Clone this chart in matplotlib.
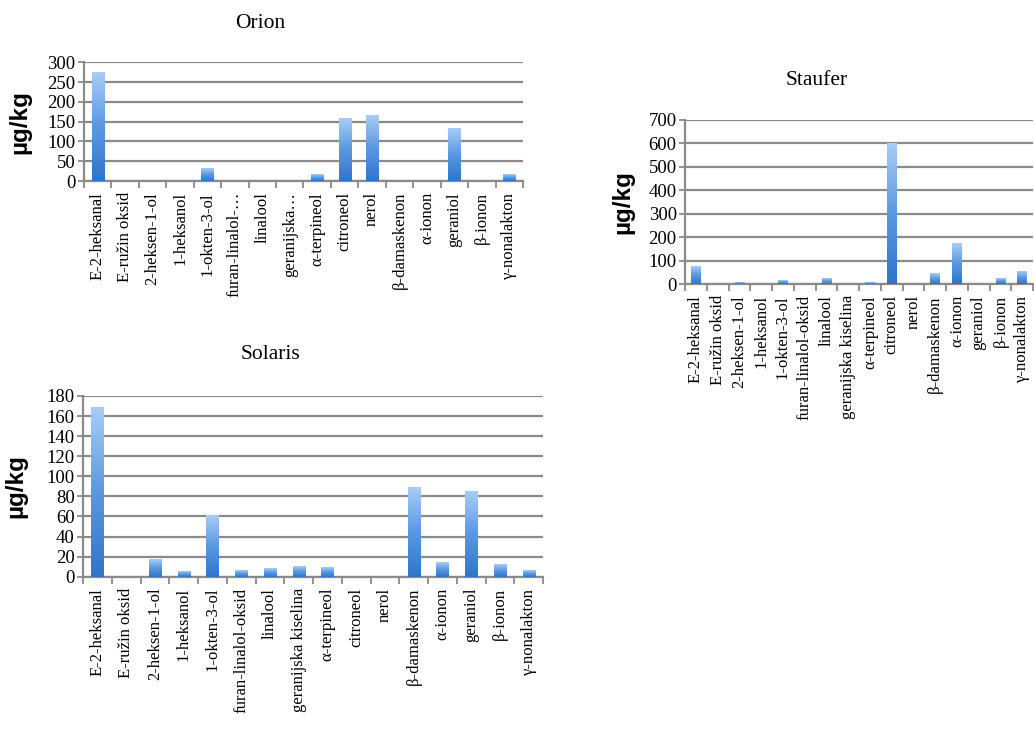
import matplotlib
matplotlib.use("Agg")
import matplotlib.pyplot as plt
import numpy as np
from matplotlib.colors import LinearSegmentedColormap

compounds = ["E-2-heksanal", "E-ružin oksid", "2-heksen-1-ol", "1-heksanol",
             "1-okten-3-ol", "furan-linalol-oksid", "linalool",
             "geranijska kiselina", "α-terpineol", "citroneol", "nerol",
             "β-damaskenon", "α-ionon", "geraniol", "β-ionon", "γ-nonalakton"]
# Orion chart shows two names cut short
orion_labels = list(compounds)
orion_labels[5] = "furan-linalol-…"
orion_labels[7] = "geranijska…"

orion = [275, 0, 0, 0, 32, 0, 0, 0, 16, 158, 165, 0, 0, 133, 0, 16]
staufer = [73, 0, 5, 0, 17, 0, 24, 0, 5, 600, 0, 46, 171, 0, 24, 52]
solaris = [169, 0, 17, 5, 61, 6, 8, 10, 9, 0, 0, 89, 14, 85, 12, 6]

bar_cmap = LinearSegmentedColormap.from_list("bar", ["#2f74cc", "#5b98e0", "#a8cdf7"])
grid_col = "#8a8a8a"
serif = "Liberation Serif"


def gradient_bars(ax, values, width):
    grad = np.linspace(0, 1, 256).reshape(-1, 1)
    for i, v in enumerate(values):
        if v <= 0:
            continue
        ax.imshow(grad, extent=[i - width / 2, i + width / 2, 0, v], origin="lower",
                  cmap=bar_cmap, aspect="auto", zorder=3, interpolation="bilinear")


def draw_chart(fig, rect, title, values, labels, ymax, step, width, title_xy, ylabel_x):
    ax = fig.add_axes(rect)
    n = len(values)
    gradient_bars(ax, values, width)
    ax.set_xlim(-0.5, n - 0.5)
    ax.set_ylim(0, ymax)
    ax.set_yticks(np.arange(0, ymax + 1, step))
    ax.set_yticklabels([str(int(t)) for t in np.arange(0, ymax + 1, step)],
                       fontfamily=serif, fontsize=13.5)
    ax.yaxis.grid(True, color=grid_col, linewidth=1.6, zorder=1)
    ax.set_axisbelow(True)

    # category labels at bar centres, tick marks at category boundaries
    ax.set_xticks(np.arange(n))
    ax.set_xticklabels(labels, rotation=90, fontfamily=serif, fontsize=12)
    ax.tick_params(axis="x", length=0, pad=8)
    ax.set_xticks(np.arange(n + 1) - 0.5, minor=True)
    ax.tick_params(axis="x", which="minor", length=5, width=1.3, color=grid_col)
    ax.tick_params(axis="y", length=4, width=1.3, color=grid_col, pad=2)

    for s in ["top", "right"]:
        ax.spines[s].set_visible(False)
    for s in ["left", "bottom"]:
        ax.spines[s].set_color(grid_col)
        ax.spines[s].set_linewidth(1.6)

    fig.text(title_xy[0], title_xy[1], title, ha="center", va="center",
             fontfamily=serif, fontsize=15.5)
    ax.set_ylabel("µg/kg", fontfamily="Liberation Sans", fontweight="bold",
                  fontsize=17.5)
    ax.yaxis.set_label_coords(ylabel_x, 0.5)
    return ax


fig = plt.figure(figsize=(10.34, 7.29), dpi=100)

draw_chart(fig, [0.0812, 0.7517, 0.4246, 0.1628], "Orion", orion, orion_labels,
           300, 50, 0.44, (0.252, 0.968), -0.12)
draw_chart(fig, [0.6625, 0.6104, 0.3366, 0.2250], "Staufer", staufer, compounds,
           700, 100, 0.45, (0.790, 0.890), -0.145)
draw_chart(fig, [0.0803, 0.2089, 0.4449, 0.2479], "Solaris", solaris, compounds,
           180, 20, 0.42, (0.262, 0.514), -0.12)

fig.savefig("out.png", dpi=100, facecolor="white")
